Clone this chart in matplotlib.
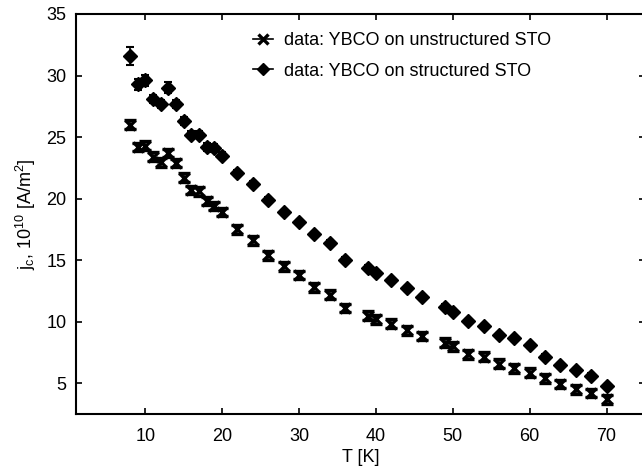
import matplotlib
matplotlib.use("Agg")
import matplotlib.pyplot as plt
from matplotlib.lines import Line2D
import numpy as np

plt.rcParams['font.family'] = ['Liberation Sans', 'DejaVu Sans']
plt.rcParams['mathtext.default'] = 'regular'

# unstructured STO (x markers)
t_unstr = [8, 9, 10, 11, 12, 13, 14, 15, 16, 17, 18, 19, 20, 22, 24, 26, 28, 30,
           32, 34, 36, 39, 40, 42, 44, 46, 49, 50, 52, 54, 56, 58, 60, 62, 64, 66, 68, 70]
j_unstr = [26.0, 24.2, 24.3, 23.4, 22.95, 23.7, 22.9, 21.7, 20.7, 20.6, 19.8, 19.4, 18.9,
           17.5, 16.6, 15.4, 14.5, 13.8, 12.8, 12.2, 11.1, 10.5, 10.2, 9.85, 9.3, 8.85,
           8.3, 8.0, 7.35, 7.15, 6.6, 6.2, 5.85, 5.4, 4.95, 4.5, 4.2, 3.7]
err_unstr = [0.35] * len(t_unstr)

# structured STO (diamonds)
t_str = [8, 9, 10, 11, 12, 13, 14, 15, 16, 17, 18, 19, 20, 22, 24, 26, 28, 30,
         32, 34, 36, 39, 40, 42, 44, 46, 49, 50, 52, 54, 56, 58, 60, 62, 64, 66, 68, 70]
j_str = [31.6, 29.3, 29.6, 28.1, 27.7, 29.0, 27.7, 26.3, 25.2, 25.2, 24.2, 24.1, 23.5,
         22.1, 21.2, 19.9, 18.9, 18.1, 17.1, 16.4, 15.05, 14.4, 13.95, 13.35, 12.7, 12.0,
         11.2, 10.8, 10.05, 9.65, 8.9, 8.65, 8.1, 7.15, 6.45, 6.05, 5.6, 4.75]
err_str = [0.75, 0.45, 0.45, 0.35, 0.35, 0.45, 0.35, 0.3, 0.3, 0.3, 0.3, 0.3, 0.3,
           0.25, 0.25, 0.2, 0.2, 0.2, 0.2, 0.2, 0.2, 0.2, 0.2, 0.2, 0.2, 0.2,
           0.2, 0.2, 0.2, 0.2, 0.2, 0.2, 0.2, 0.2, 0.2, 0.2, 0.2, 0.2]

fs = 13

fig = plt.figure(figsize=(6.42, 4.68), dpi=100)
ax = fig.add_axes([76 / 642, 1 - 414 / 468, 569 / 642, 400 / 468])

ax.errorbar(t_unstr, j_unstr, yerr=err_unstr, fmt='x', color='k', ms=7.5, mew=2.4,
            elinewidth=1.2, capsize=4, capthick=1.8)
ax.errorbar(t_str, j_str, yerr=err_str, fmt='D', color='k', ms=7.2,
            elinewidth=1.2, capsize=3, capthick=1.5)

ax.set_xlim(1, 75)
ax.set_ylim(2.5, 35)
ax.set_xticks([10, 20, 30, 40, 50, 60, 70])
ax.set_yticks([5, 10, 15, 20, 25, 30, 35])
ax.tick_params(direction='in', top=True, right=True, length=4, width=1.2,
               labelsize=fs)
ax.tick_params(axis='x', pad=10)
ax.tick_params(axis='y', pad=7)
for s in ax.spines.values():
    s.set_linewidth(1.5)

ax.set_xlabel('T [K]', fontsize=fs, labelpad=3)
ax.set_ylabel(r'j$_c$, 10$^{10}$ [A/m$^2$]', fontsize=fs, labelpad=6)

handles = [Line2D([], [], color='k', marker='x', ms=7, mew=2.4, lw=1.2),
           Line2D([], [], color='k', marker='D', ms=6.5, lw=1.2)]
ax.legend(handles, ['data: YBCO on unstructured STO', 'data: YBCO on structured STO'],
          loc='upper left', bbox_to_anchor=(0.283, 0.995), frameon=False,
          handlelength=1.1, handletextpad=0.6, labelspacing=0.75, fontsize=fs)

fig.savefig('out.png', dpi=100)
